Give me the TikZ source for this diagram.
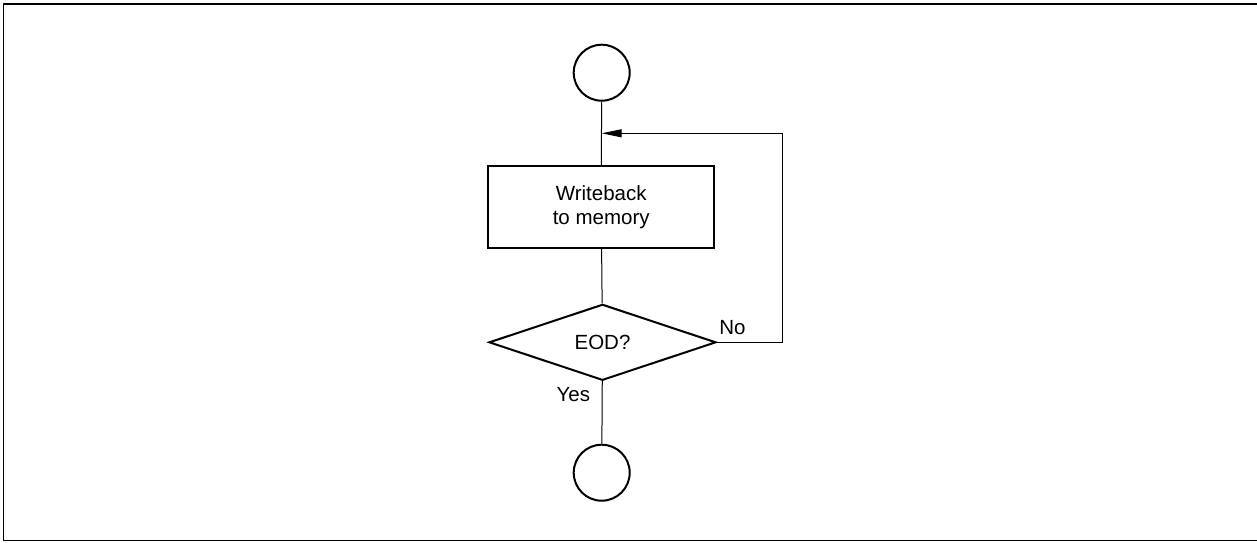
\documentclass[tikz,border=0pt]{standalone}
\usepackage{fontspec}
\setmainfont{Liberation Sans}
\usetikzlibrary{shapes.geometric,arrows.meta}
\begin{document}
\begin{tikzpicture}[x=1pt,y=-1pt,
  every node/.style={font=\fontsize{20.5}{23.3}\selectfont},
  term/.style={draw, circle, line width=2pt, minimum size=56pt, inner sep=0pt},
  procbox/.style={draw, line width=2pt, minimum width=226pt, minimum height=82pt, align=center, inner sep=0pt},
  decision/.style={draw, diamond, line width=2pt, minimum width=227pt, minimum height=76pt, inner sep=0pt, aspect=3},
  conn/.style={line width=1pt},
  lbl/.style={inner sep=0pt}
]
\useasboundingbox (0,0) rectangle (1257,542);
\draw[line width=1.5pt] (1257,4) -- (3.5,4) -- (3.5,540.7) -- (1257,540.7);
\node[term] (start) at (601.7,72.7) {};
\node[procbox] (wb) at (601.2,207.2) {Writeback\\to memory};
\node[decision] (eod) at (602.5,342.3) {};
\node[lbl] at (602.5,342.5) {EOD?};
\node[term] (stop) at (601.7,472.7) {};
\coordinate (merge) at (601.7,133.3);
\coordinate (corner1) at (782.3,342.3);
\coordinate (corner2) at (782.3,133.3);
\draw[conn] (start) -- (wb);
\draw[conn] (wb) -- (eod);
\draw[conn] (eod) -- (stop);
\draw[conn, -{Triangle[length=20pt,width=8pt]}] (eod.east) -- (corner1) -- (corner2) -- (merge);
\node[lbl] at (732.5,327.5) {No};
\node[lbl] at (573.3,394.7) {Yes};
\end{tikzpicture}
\end{document}
